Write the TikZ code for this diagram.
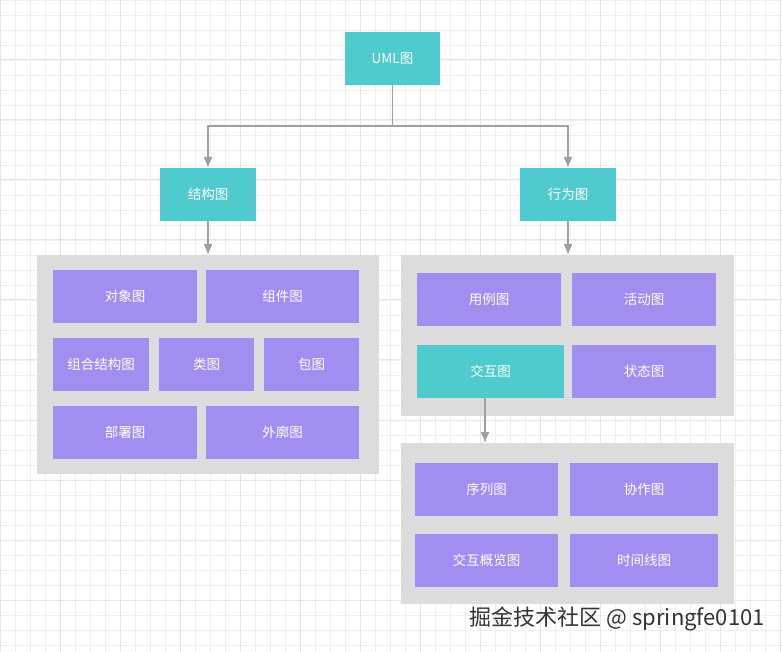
\documentclass[tikz,border=0pt]{standalone}
\usepackage{fontspec}
\usetikzlibrary{arrows.meta}
\setmainfont{Noto Sans CJK SC}
\begin{document}
\begin{tikzpicture}[x=1pt,y=-1pt,
 box/.style={draw=none,inner sep=0pt,text=white,font=\fontsize{13.5}{15}\selectfont},
 pb/.style={box,fill=purp},
 tb/.style={box,fill=teal1},
 arr/.style={draw=arrc,line width=1.3pt,-{Latex[length=11pt,width=9pt]}}]
\definecolor{purp}{HTML}{A08EF0}
\definecolor{teal1}{HTML}{4FCBCD}
\definecolor{panelc}{HTML}{DCDCDC}
\definecolor{arrc}{HTML}{A0A0A0}
\definecolor{gridc}{HTML}{EFEFEF}
\definecolor{gridm}{HTML}{E6E6E6}
\useasboundingbox (0,0) rectangle (782,652);
\fill[white] (0,0) rectangle (782,652);
\foreach \i in {0,15,...,780} \draw[gridc,line width=0.6pt] (\i,0) -- (\i,652);
\foreach \i in {0,15,...,650} \draw[gridc,line width=0.6pt] (0,\i) -- (782,\i);
\foreach \i in {0,60,...,780} \draw[gridm,line width=1pt] (\i,0) -- (\i,652);
\foreach \i in {0,60,...,650} \draw[gridm,line width=1pt] (0,\i) -- (782,\i);
% panels
\fill[panelc] (37,255) rectangle (379,474);
\fill[panelc] (401,255) rectangle (734,416);
\fill[panelc] (401,443) rectangle (734,604);
\node[tb,minimum width=95,minimum height=53] (uml) at (392.5,58.5) {UML图};
\node[tb,minimum width=96,minimum height=53] (jg) at (208,194.5) {结构图};
\node[tb,minimum width=96,minimum height=53] (xw) at (568,194.5) {行为图};
\node[pb,minimum width=144,minimum height=53] (dx) at (125,296.5) {对象图};
\node[pb,minimum width=153,minimum height=53] (zj) at (282.5,296.5) {组件图};
\node[pb,minimum width=96,minimum height=53] (zh) at (101,364.5) {组合结构图};
\node[pb,minimum width=95,minimum height=53] (lei) at (206.5,364.5) {类图};
\node[pb,minimum width=95,minimum height=53] (bao) at (311.5,364.5) {包图};
\node[pb,minimum width=144,minimum height=53] (bs) at (125,432.5) {部署图};
\node[pb,minimum width=153,minimum height=53] (wk) at (282.5,432.5) {外廓图};
\node[pb,minimum width=144,minimum height=53] (yl) at (489,299.5) {用例图};
\node[pb,minimum width=144,minimum height=53] (hd) at (644,299.5) {活动图};
\node[tb,minimum width=147,minimum height=53] (jh) at (490.5,371.5) {交互图};
\node[pb,minimum width=144,minimum height=53] (zt) at (644,371.5) {状态图};
\node[pb,minimum width=143,minimum height=53] (xl) at (486.5,489.5) {序列图};
\node[pb,minimum width=148,minimum height=53] (xz) at (644,489.5) {协作图};
\node[pb,minimum width=143,minimum height=53] (gl) at (486.5,560.5) {交互概览图};
\node[pb,minimum width=148,minimum height=53] (sj) at (644,560.5) {时间线图};
\coordinate (p1) at (208,255); \coordinate (p2) at (568,255); \coordinate (p3) at (485,443);
\coordinate (m) at (392.5,126);
\draw[arr] (uml.south) -- (m) -| (jg.north);
\draw[arr] (m) -| (xw.north);
\draw[arr] (jg.south) -- (p1);
\draw[arr] (xw.south) -- (p2);
\draw[arr] (jh.south-|p3) -- (p3);
\node[anchor=east,text=black!80,font=\fontsize{22}{24}\selectfont,inner sep=0pt] (wm) at (765,619) {掘金技术社区 @ springfe0101};
\end{tikzpicture}
\end{document}
